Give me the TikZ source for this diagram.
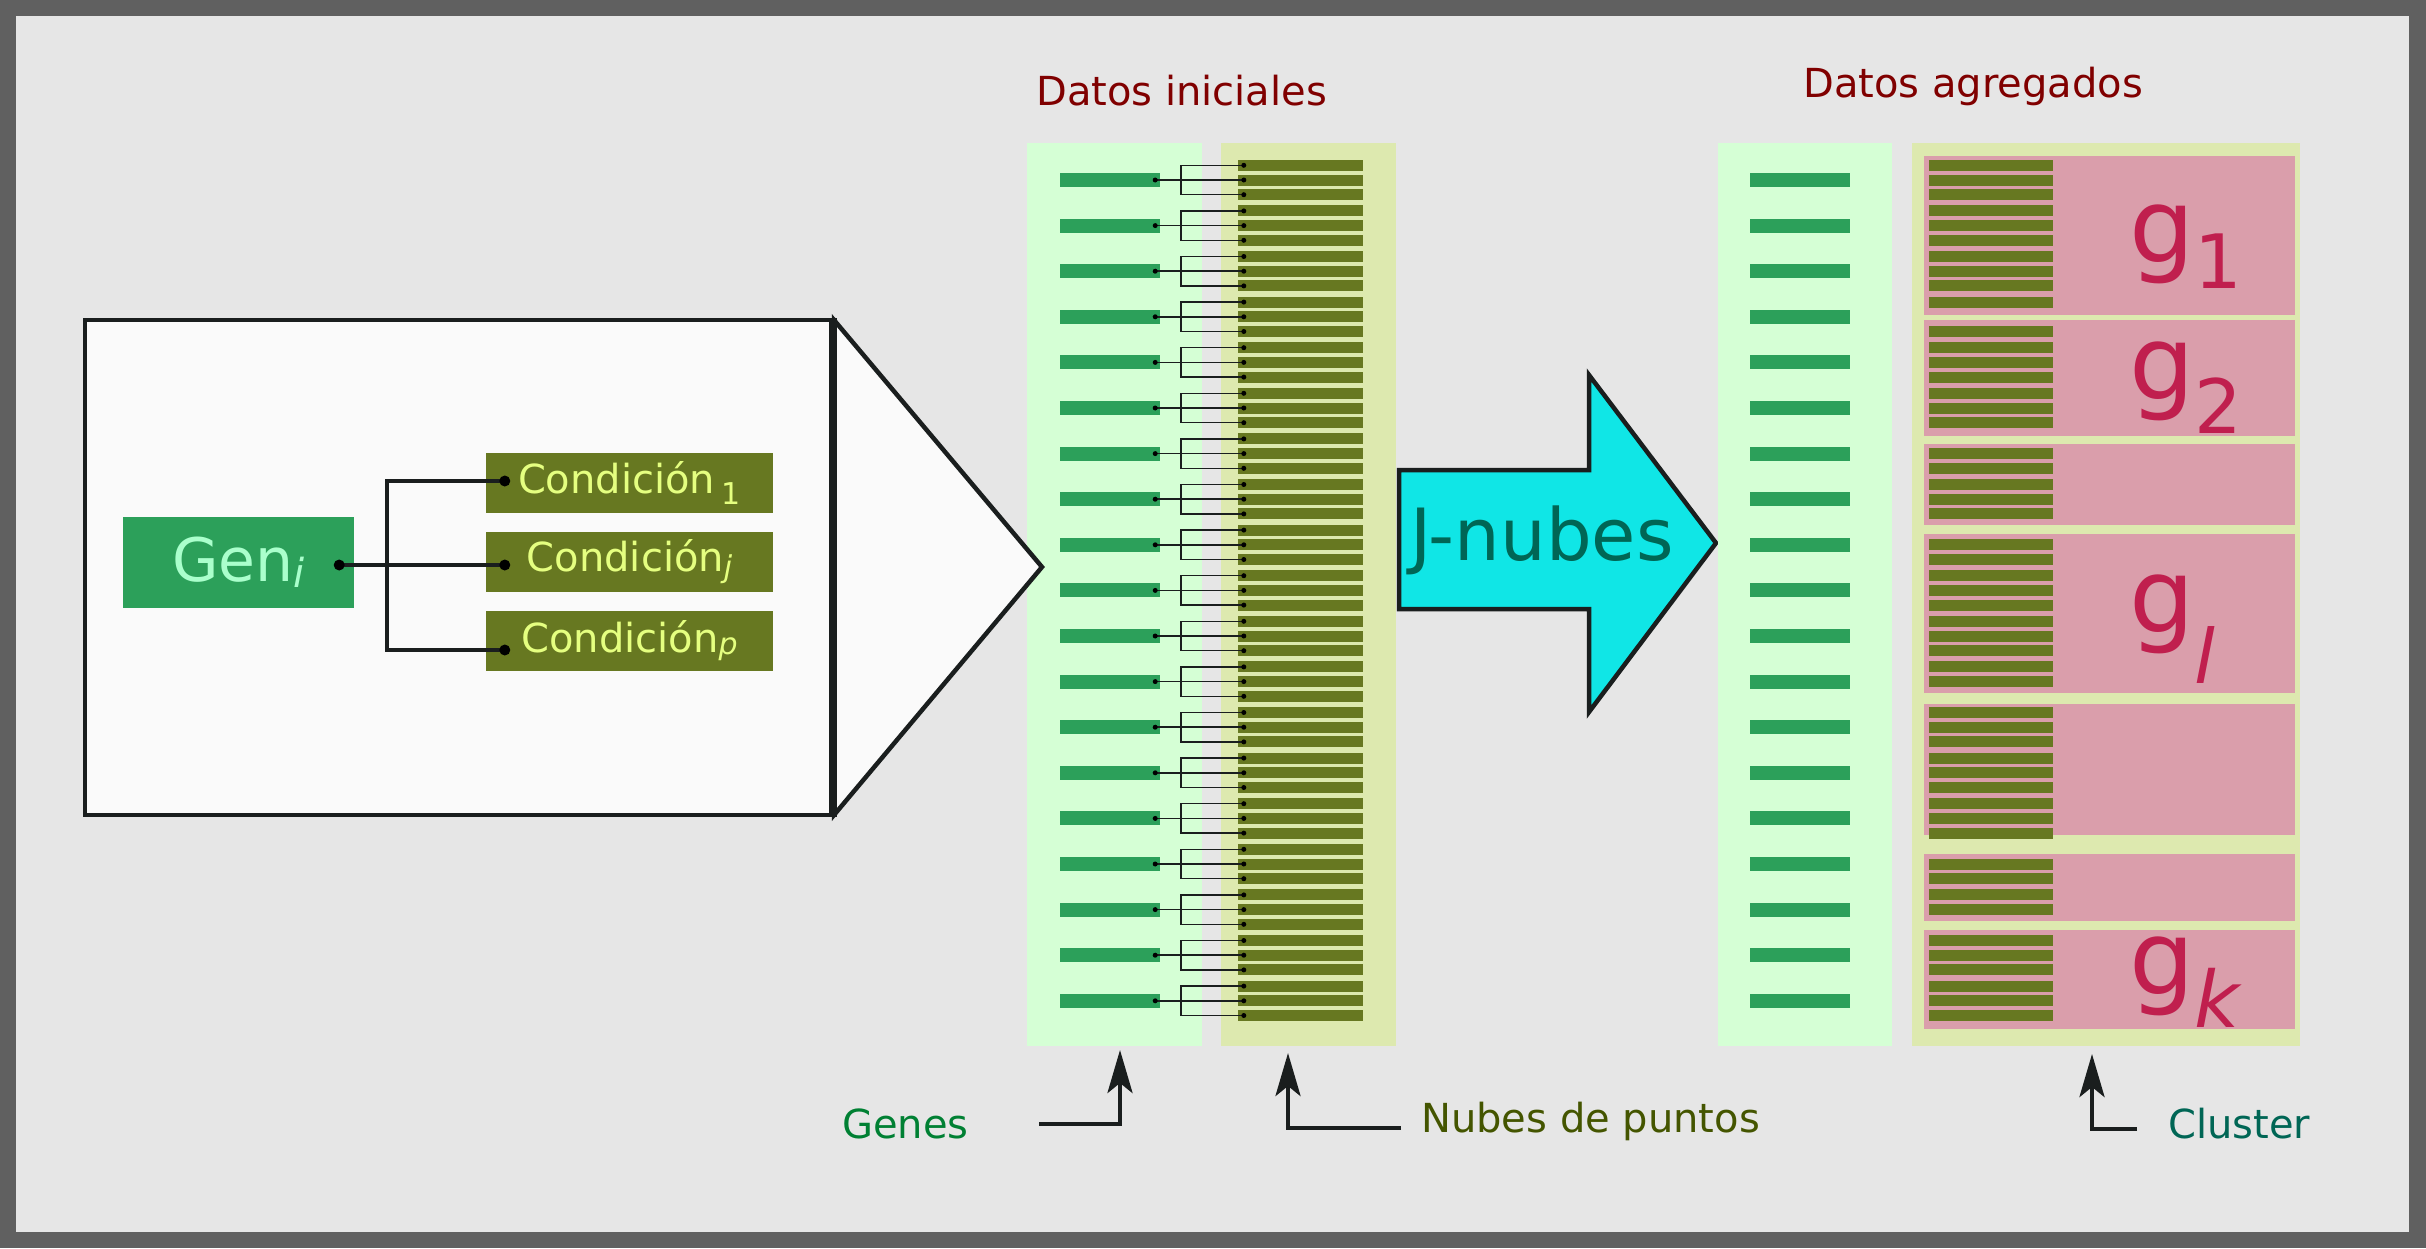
\documentclass[tikz,border=0pt]{standalone}
\usepackage{fontspec}
\setmainfont{DejaVu Sans}
\usetikzlibrary{arrows.meta,positioning,calc}
\definecolor{framegray}{HTML}{606060}
\definecolor{canvas}{HTML}{E6E6E6}
\definecolor{boxwhite}{HTML}{FAFAFA}
\definecolor{inkdark}{HTML}{1A1E1E}
\definecolor{genegreen}{HTML}{2CA05A}
\definecolor{genetext}{HTML}{AAFFCC}
\definecolor{condolive}{HTML}{677821}
\definecolor{condtext}{HTML}{E5FF80}
\definecolor{panelgreen}{HTML}{D5FFD5}
\definecolor{panelkhaki}{HTML}{DDE9AF}
\definecolor{clusterpink}{HTML}{DA9EAB}
\definecolor{clusterred}{HTML}{C01F4E}
\definecolor{titlered}{HTML}{800000}
\definecolor{jcyan}{HTML}{10E6E6}
\definecolor{jteal}{HTML}{006655}
\definecolor{labgreen}{HTML}{008033}
\definecolor{labolive}{HTML}{445500}
\newcommand{\fsz}[1]{\fontsize{#1}{#1}\selectfont}
\newcommand{\lowsub}[3]{\raisebox{-#1pt}{\fsz{#2}#3}}

\begin{document}
\begin{tikzpicture}[x=1pt,y=-1pt,
  genebar/.style={fill=genegreen,inner sep=0,minimum width=100,minimum height=14},
  cloudbar/.style={fill=condolive,inner sep=0,minimum width=125,minimum height=11},
  genebox/.style={fill=genegreen,text=genetext,font=\fsz{60},inner sep=0,
    minimum width=231,minimum height=91},
  condbox/.style={fill=condolive,text=condtext,font=\fsz{40},inner sep=0,
    minimum width=287,minimum height=60},
  wire/.style={draw=inkdark,line width=4.5},
  thinwire/.style={draw=inkdark,line width=1.5},
  callout/.style={draw=inkdark,line width=4.5,
    -{Stealth[length=43pt,width=25pt,inset=10pt]}},
  title/.style={anchor=base west,inner sep=0,text=titlered,font=\fsz{40}},
  sidelabel/.style={anchor=base west,inner sep=0,font=\fsz{40}},
  glabel/.style={anchor=base west,inner sep=0,text=clusterred,font=\fsz{103}}]
  \def\gap{45.6}
  % Frame
  \fill[framegray] (0,0) rectangle (2426,1248);
  \fill[canvas] (16,16) rectangle (2409,1232);

  % Datos iniciales
  \fill[panelgreen] (1027,143) rectangle (1202,1046);
  \fill[panelkhaki] (1221,143) rectangle (1396,1046);
  \node[title] (tini) at (1036,105) {Datos iniciales};
  \foreach \g in {0,...,18} {
    \pgfmathsetmacro\yy{180+\gap*\g}
    \node[genebar] (ga\g) at (1110,\yy) {};
    \foreach \k in {1,2,3}
      \node[cloudbar] (pa\g-\k) at (1300.5,\yy+14.7*\k-29.4) {};
    \draw[thinwire] ([xshift=-5pt]ga\g.east) -- ([xshift=6pt]pa\g-2.west);
    \draw[thinwire] ([xshift=6pt]pa\g-1.west) -| ([xshift=21pt]ga\g.east)
      |- ([xshift=6pt]pa\g-3.west);
    \fill[black] ([xshift=-5pt]ga\g.east) circle (2.5);
    \foreach \k in {1,2,3}
      \fill[black] ([xshift=6pt]pa\g-\k.west) circle (2.5);
  }

  % Gene box with its conditions
  \draw[fill=boxwhite,draw=inkdark,line width=4.5] (85,320) rectangle (832,815);
  \draw[fill=boxwhite,draw=inkdark,line width=4.5] (834,320) -- (1042,567) -- (834,815) -- cycle;
  \draw[inkdark,line width=8] (833,318) -- (833,817);
  \node[genebox] (gen) at (238.5,562.5) {Gen\lowsub{6}{40}{\itshape i}};
  \node[condbox] (c1) at (629.5,482.5) {Condición\,\lowsub{11}{30}{1}};
  \node[condbox] (cj) at (629.5,562) {Condición\lowsub{6}{30}{\itshape j}};
  \node[condbox] (cp) at (629.5,641) {Condición\lowsub{2}{30}{\itshape p}};
  \coordinate (gdot) at ([xshift=-15pt,yshift=-2.5pt]gen.east);
  \coordinate (c1dot) at ([xshift=19pt,yshift=1.5pt]c1.west);
  \coordinate (cjdot) at ([xshift=19pt,yshift=-3pt]cj.west);
  \coordinate (cpdot) at ([xshift=19pt,yshift=-9pt]cp.west);
  \draw[wire] (gdot) -- (cjdot);
  \draw[wire] (c1dot) -- ++(-118,0) |- (cpdot);
  \foreach \d in {gdot,c1dot,cjdot,cpdot}
    \fill[black] (\d) circle (5.5);

  % J-nubes arrow
  \draw[fill=jcyan,draw=inkdark,line width=4.5] (1399,470) -- (1589,470) -- (1589,375)
    -- (1716,543) -- (1589,712) -- (1589,609) -- (1399,609) -- cycle;
  \node[anchor=base west,inner sep=0,text=jteal,font=\fsz{72}] (jn) at (1410,560) {J-nubes};

  % Datos agregados
  \fill[panelgreen] (1718,143) rectangle (1892,1046);
  \fill[panelkhaki] (1912,143) rectangle (2300,1046);
  \node[title] (tagr) at (1803,97) {Datos agregados};
  \foreach \g in {0,...,18}
    \node[genebar] (gb\g) at (1800,180+\gap*\g) {};
  \foreach \top/\bot/\first/\last in {156/315/0/9, 320/436/11/17, 444/525/19/23,
      534/693/25/34, 704/835/36/44, 854/921/46/49, 930/1029/51/56} {
    \fill[clusterpink] (1924,\top) rectangle (2295,\bot);
    \foreach \n in {\first,...,\last} {
      \pgfmathsetmacro\yy{180+\gap*floor(\n/3)+14.7*(mod(\n,3)-1)}
      \node[cloudbar,minimum width=124] (pb\n) at (1991,\yy) {};
    }
  }
  \node[glabel] (g1) at (2129,262) {g\lowsub{26}{75}{1}};
  \node[glabel] (g2) at (2129,399) {g\lowsub{34}{75}{2}};
  \node[glabel] (gl) at (2129,632) {g\lowsub{51}{75}{\itshape l}};
  \node[glabel] (gk) at (2129,994) {g\lowsub{33}{78}{\itshape k}};

  % Callouts
  \node[sidelabel,text=labgreen] (lgenes) at (842,1138) {Genes};
  \node[sidelabel,text=labolive] (lnubes) at (1421,1132) {Nubes de puntos};
  \node[sidelabel,text=jteal] (lclus) at (2168,1138) {Cluster};
  \coordinate (gtail) at (1039,1124);
  \coordinate (gtip) at (1120,1050);
  \coordinate (ntail) at (1401,1128);
  \coordinate (ntip) at (1288,1053);
  \coordinate (ctail) at (2137,1129);
  \coordinate (ctip) at (2092,1054);
  \draw[callout] (gtail) -| (gtip);
  \draw[callout] (ntail) -| (ntip);
  \draw[callout] (ctail) -| (ctip);
\end{tikzpicture}
\end{document}
